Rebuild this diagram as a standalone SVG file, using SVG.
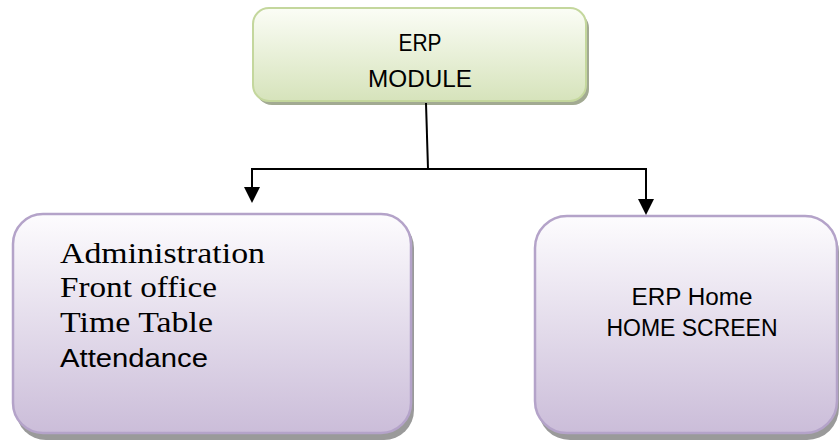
<svg xmlns="http://www.w3.org/2000/svg" width="839" height="446" viewBox="0 0 839 446">
<defs>
<linearGradient id="gGreen" x1="0" y1="0" x2="0" y2="1">
<stop offset="0" stop-color="#fbfdf6"/>
<stop offset="1" stop-color="#d6e3bb"/>
</linearGradient>
<linearGradient id="gPurple" x1="0" y1="0" x2="0" y2="1">
<stop offset="0" stop-color="#fdfcfe"/>
<stop offset="1" stop-color="#cbbdd9"/>
</linearGradient>
<marker id="arrow" markerUnits="userSpaceOnUse" viewBox="0 0 16 16" refX="14" refY="8" markerWidth="16" markerHeight="16" orient="auto">
<path d="M0,0 L16,8 L0,16 z" fill="#000"/>
</marker>
</defs>
<style>
.shadow{fill:#9a9a9a;}
.green{fill:url(#gGreen);stroke:#c4d79d;stroke-width:2;}
.purple{fill:url(#gPurple);stroke:#b4a3c9;stroke-width:2.5;}
.sans{font-family:"Liberation Sans","Open Sans",sans-serif;fill:#000;}
.serif{font-family:"Liberation Serif","DejaVu Serif",serif;fill:#000;}
.conn{stroke:#000;stroke-width:2;fill:none;}
</style>
<rect width="839" height="446" fill="#ffffff"/>
<g id="erp-module">
<rect class="shadow" x="256" y="12" width="333" height="93" rx="16" fill="#a3ab94" style="fill:#a2aa92"/>
<rect class="green" x="253" y="8" width="333" height="93" rx="16"/>
<text class="sans" x="420" y="51" font-size="23" text-anchor="middle" textLength="43" lengthAdjust="spacingAndGlyphs">ERP</text>
<text class="sans" x="420" y="87" font-size="23" text-anchor="middle" textLength="104" lengthAdjust="spacingAndGlyphs">MODULE</text>
</g>
<g id="modules-list">
<rect class="shadow" x="16" y="218" width="398" height="222" rx="30"/>
<rect class="purple" x="13" y="214" width="398" height="219" rx="30"/>
<text class="serif" x="60" y="263" font-size="29" textLength="205" lengthAdjust="spacingAndGlyphs">Administration</text>
<text class="serif" x="60" y="297" font-size="29" textLength="157" lengthAdjust="spacingAndGlyphs">Front office</text>
<text class="serif" x="60" y="332" font-size="29" textLength="153" lengthAdjust="spacingAndGlyphs">Time Table</text>
<text class="sans" x="60" y="367" font-size="26" textLength="148" lengthAdjust="spacingAndGlyphs">Attendance</text>
</g>
<g id="erp-home">
<rect class="shadow" x="538" y="220" width="301" height="220" rx="32"/>
<rect class="purple" x="535" y="216" width="302" height="217" rx="32"/>
<text class="sans" x="692" y="305" font-size="23" text-anchor="middle" textLength="121" lengthAdjust="spacingAndGlyphs">ERP Home</text>
<text class="sans" x="692" y="336" font-size="23" text-anchor="middle" textLength="171" lengthAdjust="spacingAndGlyphs">HOME SCREEN</text>
</g>
<g id="connectors">
<path class="conn" d="M426,103 L428,169"/>
<path class="conn" d="M252,169 H646"/>
<path class="conn" d="M252,168 V201" marker-end="url(#arrow)"/>
<path class="conn" d="M646,168 V213" marker-end="url(#arrow)"/>
</g>
</svg>
